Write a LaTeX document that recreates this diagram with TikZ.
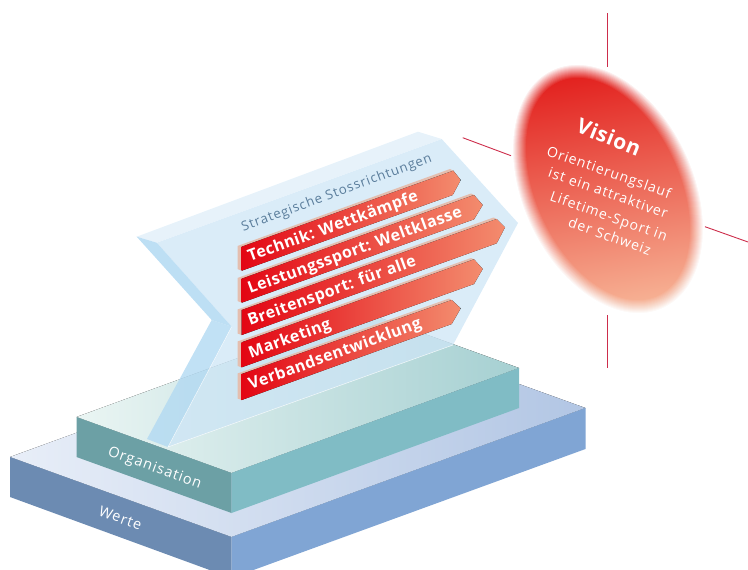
\documentclass[tikz,border=0pt]{standalone}
\usepackage{fontspec}
\setmainfont{Open Sans}
\newfontfamily\bsp[LetterSpace=3]{Open Sans}
\newfontfamily\bspw[LetterSpace=7]{Open Sans}
\definecolor{wTopL}{RGB}{232,238,248}
\definecolor{wTopR}{RGB}{178,198,228}
\definecolor{wLeft}{RGB}{108,139,178}
\definecolor{wRight}{RGB}{128,165,212}
\definecolor{oTopL}{RGB}{234,245,243}
\definecolor{oTopR}{RGB}{166,208,210}
\definecolor{oLeft}{RGB}{108,160,165}
\definecolor{oRight}{RGB}{128,188,197}
\definecolor{plate}{RGB}{205,229,246}
\definecolor{bevL}{RGB}{178,217,242}
\definecolor{bevT}{RGB}{228,241,250}
\definecolor{barA}{RGB}{227,6,19}
\definecolor{barB}{RGB}{232,50,35}
\definecolor{barC}{RGB}{243,140,110}
\definecolor{barS}{RGB}{228,190,175}
\definecolor{stra}{RGB}{90,125,155}
\definecolor{crossl}{RGB}{205,45,75}
\definecolor{visA}{RGB}{226,30,28}
\definecolor{visB}{RGB}{236,85,60}
\definecolor{visC}{RGB}{247,180,150}
\tikzset{
  barshape/.style={left color=barA,middle color=barB,right color=barC,draw=none},
  barshadow/.style={fill=barS,draw=none},
  bartext/.style={anchor=base west,rotate=20,text=white,inner sep=0pt,font=\bsp\bfseries\fontsize{16}{18}\selectfont},
  vistext/.style={anchor=base west,rotate=-19.5,text=white,inner sep=0pt,font=\bspw\fontsize{14}{15}\selectfont},
  baselabel/.style={anchor=base west,rotate=-20,text=white,inner sep=0pt,font=\bspw\fontsize{14.5}{16}\selectfont},
  crossline/.style={draw=crossl,line width=0.9pt},
}
\begin{document}
\begin{tikzpicture}[x=1pt,y=-1pt]
\useasboundingbox (0,0) rectangle (748,570);
\clip (0,0) rectangle (748,570);
% Werte
\fill[left color=wTopL,right color=wTopR] (10,457)--(231.5,537)--(585.5,408)--(364,328)--cycle;
\fill[wLeft] (10,457)--(231.5,537)--(231.5,578)--(10,497)--cycle;
\fill[wRight] (231.5,537)--(585.5,408)--(585.5,449)--(231.5,578)--cycle;
% Organisation
\fill[left color=oTopL,right color=oTopR] (76.5,417)--(231.5,473)--(519,368)--(364,312)--cycle;
\fill[oLeft] (76.5,417)--(231.5,473)--(231.5,513)--(76.5,457)--cycle;
\fill[oRight] (231.5,473)--(519,368)--(519,408)--(231.5,513)--cycle;
% vision
\begin{scope}[transform canvas={shift={(608,189)},rotate=25}]
\fill[top color=visA,middle color=visB,bottom color=visC,shading angle=-15] (0,0) ellipse (87 and 133);
\foreach \t in {0,...,13}{
  \pgfmathsetmacro{\ringop}{1/(14-\t)}
  \fill[white,fill opacity=\ringop,even odd rule] (0,0) ellipse ({72+\t} and {118+\t}) (0,0) ellipse (88 and 134);
}
\end{scope}
% plate
\fill[plate,fill opacity=.75] (441.7,139)--(518,223)--(453,345)--(168,447)--(231.7,326.7)--(156.7,242.7)--cycle;
\fill[bevT,fill opacity=.9] (136.7,236.7)--(418,131.7)--(441.7,139)--(156.7,242.7)--cycle;
\fill[bevL,fill opacity=.85] (136.7,236.7)--(156.7,242.7)--(231.7,326.7)--(211.7,320)--cycle;
\fill[bevL,fill opacity=.8] (211.7,320)--(231.7,326.7)--(168,447)--(147,439)--cycle;
\draw[white,line width=.5pt,opacity=.8] (231.7,326.7)--(168,447)--(453,345);
% bars
\fill[barshadow] (237.5,246)--(450,169)--(453.3,170.7)--(241.7,246.7)--(241.7,270.7)--(237.5,269)--cycle;
\fill[barshape] (241.7,246.7)--(453.3,170.7)--(460.7,180)--(452.7,195)--(241.7,270.7)--cycle;
\fill[barshadow] (237.5,278)--(471,193.5)--(474,195)--(241.7,278.7)--(241.7,302.7)--(237.5,301)--cycle;
\fill[barshape] (241.7,278.7)--(474,195)--(482.7,205)--(474,219.3)--(241.7,302.7)--cycle;
\fill[barshadow] (237.5,309.5)--(493.5,217.5)--(496.7,219)--(241.7,310)--(241.7,335)--(237.5,333.5)--cycle;
\fill[barshape] (241.7,310)--(496.7,219)--(505,227.3)--(496.7,243.3)--(241.7,335)--cycle;
\fill[barshadow] (237.5,341.5)--(471,258)--(474,259.3)--(241.7,342.3)--(241.7,367.3)--(237.5,366)--cycle;
\fill[barshape] (241.7,342.3)--(474,259.3)--(482.7,269)--(474,284)--(241.7,367.3)--cycle;
\fill[barshadow] (237.5,373.5)--(449,298.5)--(451.7,300)--(241.7,374)--(241.7,400)--(237.5,398.5)--cycle;
\fill[barshape] (241.7,374)--(451.7,300)--(460.7,308.3)--(451.7,324)--(241.7,400)--cycle;
% sign texts
\node[anchor=base west,rotate=20.4,text=stra,inner sep=0pt,font=\bspw\fontsize{13.2}{15}\selectfont] (stra) at (243.3,231.7) {Strategische Stossrichtungen};
\node[bartext] (b1) at (250,262) {Technik: Wettkämpfe};
\node[bartext] (b2) at (250,294) {Leistungssport: Weltklasse};
\node[bartext] (b3) at (250,326) {Breitensport: für alle};
\node[bartext] (b4) at (250.7,358.3) {Marketing};
\node[bartext] (b5) at (250.7,390) {Verbandsentwicklung};
% base labels
\node[baselabel] (org) at (107,455) {Organisation};
\node[baselabel] (wer) at (97.6,515) {Werte};
% vision text
\node[anchor=base west,rotate=-22,text=white,inner sep=0pt,font=\bsp\bfseries\fontsize{21}{23}\selectfont] (vis) at (575,131.7) {Vision};
\node[vistext] (v1) at (545.7,155) {Orientierungslauf};
\node[vistext] (v2) at (547.3,176.7) {ist ein attraktiver};
\node[vistext] (v3) at (549,200) {Lifetime-Sport in};
\node[vistext] (v4) at (567.3,226.7) {der Schweiz};
% crosshair
\coordinate (t1) at (607.5,13); \coordinate (t2) at (607.5,67);
\coordinate (u1) at (607.5,315); \coordinate (u2) at (607.5,368);
\coordinate (l1) at (462.7,137.7); \coordinate (l2) at (511,155.7);
\coordinate (r1) at (705,226.7); \coordinate (r2) at (748,242);
\draw[crossline] (t1)--(t2);
\draw[crossline] (u1)--(u2);
\draw[crossline] (l1)--(l2);
\draw[crossline] (r1)--(r2);
\end{tikzpicture}
\end{document}
